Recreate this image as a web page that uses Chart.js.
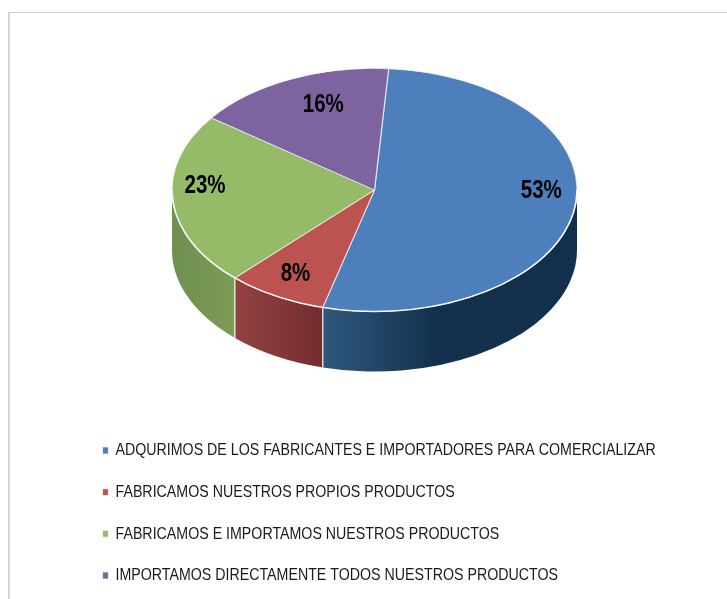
<!DOCTYPE html>
<html><head><meta charset="utf-8">
<style>html,body{margin:0;padding:0;background:#fff}#w{position:relative;width:727px;height:599px}</style>
<script src="https://cdn.jsdelivr.net/npm/chart.js@4"></script></head>
<body><div id="w"><canvas id="c" width="727" height="599"></canvas></div>
<script>
const categories = [
  'ADQURIMOS DE LOS FABRICANTES E IMPORTADORES PARA COMERCIALIZAR',
  'FABRICAMOS NUESTROS PROPIOS PRODUCTOS',
  'FABRICAMOS E IMPORTAMOS NUESTROS PRODUCTOS',
  'IMPORTAMOS DIRECTAMENTE TODOS NUESTROS PRODUCTOS'];
const shares = [53, 8, 23, 16];
const topColors = ['#4c7fbc', '#bc5350', '#95bb69', '#7e63a1'];
const sideStops = [
  [[0,'#2f587e'],[0.45,'#12304c'],[1,'#12304c']],
  [[0,'#934243'],[1,'#732d2f']],
  [[0,'#6f8f4f'],[1,'#7b9c55']],
  [[0,'#5b4578'],[1,'#5b4578']]];
const labelRadius = [0.82, 0.78, 0.82, 0.78];
const labelShift = [[3,-15],[-2,1],[-4,-13],[15,1]];
const FONT = '"Liberation Sans",Arial,sans-serif';
const CX = 374.5, CY = 190, RX = 202.5, RATIO = 0.6, DEPTH = 60;
const LEGEND_SQUEEZE = 0.836, LABEL_SQUEEZE = 0.82;

const pie3d = {
  id: 'pie3d',
  afterLayout(chart) {
    const lg = chart.legend;
    if (lg && !lg._squeezed) {
      const draw = lg.draw;
      lg.draw = function () {
        const c = chart.ctx, right = lg.right;
        c.save(); c.scale(LEGEND_SQUEEZE, 1);
        lg.right = right / LEGEND_SQUEEZE;
        draw.apply(lg, arguments);
        lg.right = right;
        c.restore();
      };
      lg._squeezed = true;
    }
  },
  beforeDraw(chart) {
    const ctx = chart.ctx;
    ctx.save();
    ctx.fillStyle = '#fff'; ctx.fillRect(0,0,chart.width,chart.height);
    ctx.fillStyle = '#cfcfcf';
    ctx.fillRect(8, 12, chart.width - 8, 1);
    ctx.fillStyle = '#d6d6d6';
    ctx.fillRect(8, 12, 2, chart.height - 12);
    ctx.restore();
  },
  beforeDatasetsDraw(chart) {
    const ctx = chart.ctx, meta = chart.getDatasetMeta(0);
    const ry = RX * RATIO;
    ctx.save();
    meta.data.forEach((arc, i) => {
      const a0 = Math.max(arc.startAngle, 0), a1 = Math.min(arc.endAngle, Math.PI);
      if (a1 <= a0) return;
      const x0 = CX + RX*Math.cos(a1), x1 = CX + RX*Math.cos(a0);
      const g = ctx.createLinearGradient(x0, 0, x1, 0);
      sideStops[i].forEach(s => g.addColorStop(s[0], s[1]));
      ctx.beginPath();
      ctx.ellipse(CX, CY, RX, ry, 0, a0, a1);
      ctx.ellipse(CX, CY + DEPTH, RX, ry, 0, a1, a0, true);
      ctx.closePath();
      ctx.fillStyle = g; ctx.fill();
    });
    meta.data.forEach((arc) => {
      const a1 = arc.endAngle;
      if (a1 <= 0 || a1 >= Math.PI) return;
      const x = CX + RX*Math.cos(a1), y = CY + ry*Math.sin(a1);
      ctx.strokeStyle = '#eeeeee'; ctx.lineWidth = 1.3;
      ctx.beginPath(); ctx.moveTo(x, y); ctx.lineTo(x, y + DEPTH); ctx.stroke();
    });
    ctx.restore();
    ctx.save();
    const p = meta.data[0];
    ctx.translate(CX, CY); ctx.scale(1, RATIO); ctx.translate(-p.x, -p.y);
  },
  afterDatasetsDraw(chart) {
    const ctx = chart.ctx, meta = chart.getDatasetMeta(0);
    ctx.restore();
    ctx.save();
    ctx.strokeStyle = '#f6f6f6'; ctx.lineWidth = 1.5;
    ctx.beginPath(); ctx.ellipse(CX, CY, RX, RX*RATIO, 0, 0, Math.PI); ctx.stroke();
    ctx.font = 'bold 25px ' + FONT;
    ctx.fillStyle = '#000'; ctx.textAlign = 'center'; ctx.textBaseline = 'middle';
    meta.data.forEach((arc, i) => {
      const mid = (arc.startAngle + arc.endAngle) / 2;
      const r = RX * labelRadius[i];
      const x = CX + r*Math.cos(mid) + labelShift[i][0];
      const y = CY + r*RATIO*Math.sin(mid) + labelShift[i][1];
      ctx.save(); ctx.translate(x, y); ctx.scale(LABEL_SQUEEZE, 1);
      ctx.fillText(shares[i] + '%', 0, 0);
      ctx.restore();
    });
    ctx.restore();
  }
};

new Chart(document.getElementById('c'), {
  type: 'pie',
  data: { labels: categories, datasets: [{ data: shares, backgroundColor: topColors,
    borderColor: 'rgba(255,255,255,0.7)', borderWidth: 1.2, radius: RX, hoverOffset: 0 }] },
  options: {
    responsive: false, animation: false, rotation: 4,
    layout: { padding: { left: 98, right: 0, bottom: 5, top: 0 } },
    plugins: {
      tooltip: { enabled: false },
      legend: { position: 'bottom', align: 'start',
        labels: { boxWidth: 7, boxHeight: 7, padding: 24.67, color: '#1a1a1a',
          font: { family: FONT, size: 17 } } }
    }
  },
  plugins: [pie3d]
});
</script></body></html>
